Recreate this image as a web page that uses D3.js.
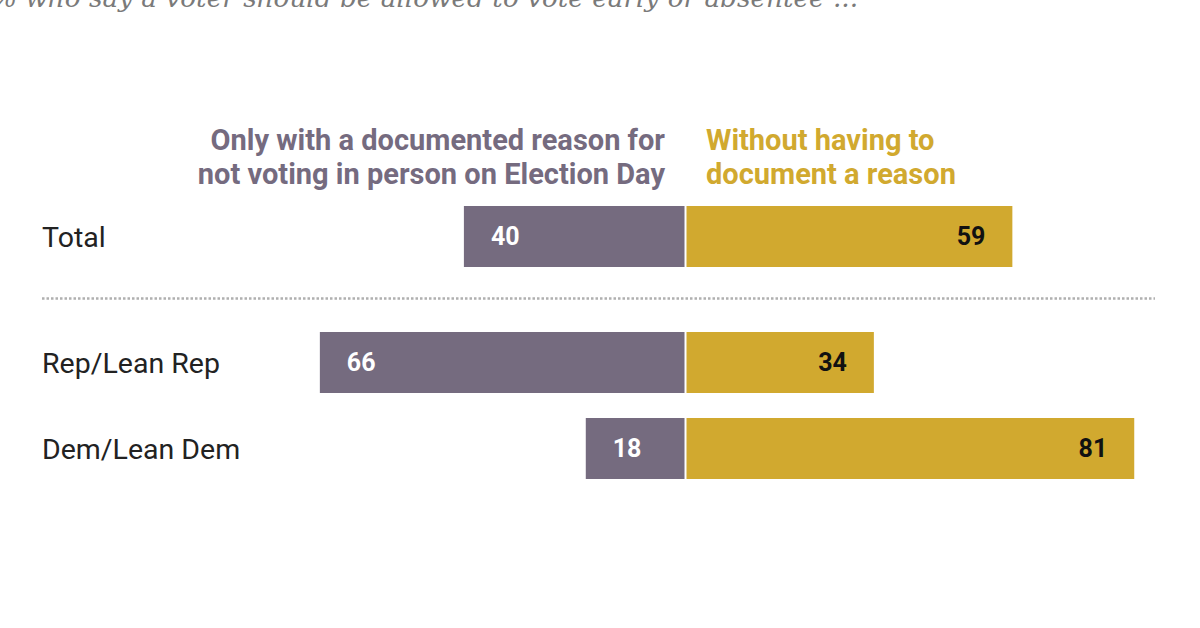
<!DOCTYPE html>
<html lang="en">
<head>
<meta charset="UTF-8">
<title>Early or absentee voting</title>
<script src="https://d3js.org/d3.v7.min.js"></script>
<style>
  body { margin: 0; background: #fff; }
  svg { display: block; }
  .lab { font-family: Roboto, "Liberation Sans", sans-serif; }
</style>
</head>
<body>
<svg width="1200" height="628"></svg>
<script>
// data
const groups = ['Total', 'Rep/Lean Rep', 'Dem/Lean Dem'];
const documented = [40, 66, 18];
const noReason = [59, 34, 81];
const seriesNames = [
  ['Only with a documented reason for', 'not voting in person on Election Day'],
  ['Without having to', 'document a reason']
];
const subtitle = '% who say a voter should be allowed to vote early or absentee ...';

const purple = '#756b7f';
const gold = '#d1a92f';

const svg = d3.select('svg');
const center = 685.5;
const pxPerUnit = 5.54;

const xRight = d3.scaleLinear().domain([0, 100]).range([center, center + 100 * pxPerUnit]);
const xLeft = d3.scaleLinear().domain([0, 100]).range([center, center - 100 * pxPerUnit]);

// rows: Total sits alone, then a divider, then the party rows
const rowY = d3.scaleOrdinal().domain(groups).range([206, 332, 418]);
const barH = 61;

// subtitle, cut at the top edge
svg.append('text')
  .attr('x', -8).attr('y', 7)
  .attr('font-family', '"DejaVu Serif", Georgia, serif')
  .attr('font-style', 'italic')
  .attr('font-size', 26.3)
  .attr('fill', '#7a7a7a')
  .text(subtitle);

// column headers
const head = svg.append('g').attr('class', 'lab')
  .attr('font-size', 29).attr('font-weight', 'bold');
head.append('text')
  .attr('text-anchor', 'end').attr('fill', purple)
  .selectAll('tspan').data(seriesNames[0]).join('tspan')
  .attr('x', 665).attr('y', (d, i) => 150 + i * 34)
  .text(d => d);
head.append('text')
  .attr('text-anchor', 'start').attr('fill', gold)
  .selectAll('tspan').data(seriesNames[1]).join('tspan')
  .attr('x', 706).attr('y', (d, i) => 150 + i * 34)
  .text(d => d);

// divider
svg.append('line')
  .attr('x1', 42).attr('x2', 1155)
  .attr('y1', 298.5).attr('y2', 298.5)
  .attr('stroke', '#b0b0b0').attr('stroke-width', 2.5)
  .attr('stroke-dasharray', '2.5,2');

const rows = svg.selectAll('g.row')
  .data(groups.map((g, i) => ({ g, a: documented[i], b: noReason[i] })))
  .join('g').attr('class', 'row lab')
  .attr('transform', d => `translate(0,${rowY(d.g)})`);

rows.append('text')
  .attr('x', 42).attr('y', barH / 2 + 10)
  .attr('font-size', 28.5).attr('fill', '#222')
  .text(d => d.g);

rows.append('rect')
  .attr('x', d => xLeft(d.a)).attr('y', 0)
  .attr('width', d => xLeft(0) - xLeft(d.a) - 1).attr('height', barH)
  .attr('fill', purple);

rows.append('rect')
  .attr('x', xRight(0) + 1).attr('y', 0)
  .attr('width', d => xRight(d.b) - xRight(0) - 1).attr('height', barH)
  .attr('fill', gold);

rows.append('text')
  .attr('x', d => xLeft(d.a) + 27).attr('y', barH / 2 + 8.5)
  .attr('font-size', 25).attr('font-weight', 'bold').attr('fill', '#fff')
  .text(d => d.a);

rows.append('text')
  .attr('x', d => xRight(d.b) - 27).attr('y', barH / 2 + 8.5)
  .attr('text-anchor', 'end')
  .attr('font-size', 25).attr('font-weight', 'bold').attr('fill', '#111')
  .text(d => d.b);
</script>
</body>
</html>
